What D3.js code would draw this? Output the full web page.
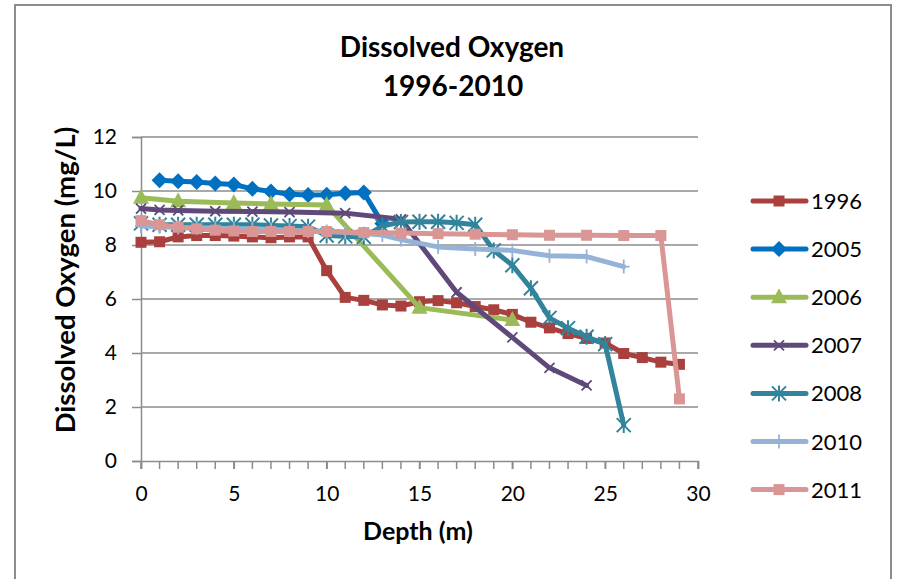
<!DOCTYPE html>
<html><head><meta charset="utf-8">
<script src="https://cdn.jsdelivr.net/npm/d3@7"></script>
<style>
body{margin:0;background:#fff}
svg{display:block}
text{font-family:Lato,"Open Sans",sans-serif;fill:#000}
</style>
</head><body>
<svg id="chart" width="903" height="579"></svg>
<script>
// ---- data ----
const seriesNames = ["1996", "2005", "2006", "2007", "2008", "2010", "2011"];
const depth1996 = [0,1,2,3,4,5,6,7,8,9,10,11,12,13,14,15,16,17,18,19,20,21,22,23,24,25,26,27,28,29];
const do1996 = [8.1,8.12,8.3,8.35,8.35,8.33,8.3,8.27,8.3,8.3,7.05,6.06,5.95,5.78,5.74,5.9,5.94,5.86,5.72,5.6,5.43,5.14,4.93,4.72,4.54,4.37,3.98,3.83,3.66,3.58];
const depth2005 = [1,2,3,4,5,6,7,8,9,10,11,12,13];
const do2005 = [10.4,10.36,10.33,10.28,10.24,10.08,9.98,9.88,9.85,9.86,9.92,9.94,8.8];
const depth2006 = [0,2,5,7,10,15,20];
const do2006 = [9.75,9.62,9.56,9.52,9.48,5.68,5.22];
const depth2007 = [0,1,2,4,6,8,11,14,17,20,22,24];
const do2007 = [9.35,9.3,9.28,9.25,9.24,9.22,9.18,8.95,6.25,4.58,3.45,2.8];
const depth2008 = [0,1,2,3,4,5,6,7,8,9,10,11,12,13,14,15,16,17,18,19,20,21,22,23,24,25,26];
const do2008 = [8.8,8.75,8.75,8.75,8.75,8.75,8.75,8.72,8.7,8.68,8.35,8.32,8.3,8.7,8.85,8.86,8.86,8.82,8.75,7.8,7.25,6.4,5.3,4.92,4.6,4.33,1.33];
const depth2010 = [0,1,2,3,4,5,6,7,8,9,10,11,12,13,14,16,18,20,22,24,26];
const do2010 = [8.7,8.68,8.65,8.64,8.62,8.6,8.6,8.57,8.55,8.52,8.5,8.47,8.43,8.37,8.2,7.93,7.85,7.8,7.6,7.57,7.2];
const depth2011 = [0,1,2,3,4,5,6,7,8,9,10,12,14,16,18,20,22,24,26,28,29];
const do2011 = [8.9,8.75,8.66,8.6,8.55,8.52,8.5,8.5,8.5,8.5,8.5,8.46,8.44,8.42,8.4,8.38,8.36,8.36,8.35,8.35,2.3];
const xTicks = [0,5,10,15,20,25,30];
const yTicks = [0,2,4,6,8,10,12];
const titleLines = ["Dissolved Oxygen", "1996-2010"];
const xTitle = "Depth (m)";
const yTitle = "Dissolved Oxygen (mg/L)";

const colors = ["#A9403D","#0070C0","#9BBB59","#5F497A","#31849B","#95B3D7","#D99694"];
const markers = ["square","diamond","triangle","x","asterisk","plus","square"];
const xs = [depth1996,depth2005,depth2006,depth2007,depth2008,depth2010,depth2011];
const ys = [do1996,do2005,do2006,do2007,do2008,do2010,do2011];
const series = seriesNames.map((n,i)=>({name:n,color:colors[i],marker:markers[i],
  pts:xs[i].map((d,j)=>({x:d,y:ys[i][j]}))}));

// ---- layout ----
const svg = d3.select("#chart");
const L = 141, R = 698, T = 137, B = 461;
const x = d3.scaleLinear().domain([0,30]).range([L,R]);
const y = d3.scaleLinear().domain([0,12]).range([B,T]);

// outer frame
svg.append("rect").attr("x",15).attr("y",5).attr("width",876).attr("height",590)
  .attr("fill","#fff").attr("stroke","#8c8c8c").attr("stroke-width",2);

// gridlines
svg.append("g").selectAll("line").data(yTicks.filter(d=>d>0)).join("line")
  .attr("x1",L).attr("x2",R).attr("y1",d=>y(d)).attr("y2",d=>y(d))
  .attr("stroke","#8c8c8c").attr("stroke-width",1.5);

// y axis
const yAxis = svg.append("g").attr("transform",`translate(${L},0)`)
  .call(d3.axisLeft(y).tickValues(yTicks).tickSize(9).tickPadding(15));
yAxis.select(".domain").attr("stroke","#8c8c8c").attr("stroke-width",1.5);
yAxis.selectAll(".tick line").attr("stroke","#8c8c8c").attr("stroke-width",1.5);
yAxis.selectAll("text").style("font-size","21px").style("font-family","Lato");

// x axis minor ticks
svg.append("g").selectAll("line").data(d3.range(0,31)).join("line")
  .attr("x1",d=>x(d)).attr("x2",d=>x(d)).attr("y1",B).attr("y2",B+8)
  .attr("stroke","#8c8c8c").attr("stroke-width",1.5);
const xAxis = svg.append("g").attr("transform",`translate(0,${B})`)
  .call(d3.axisBottom(x).tickValues(xTicks).tickSize(8).tickPadding(17));
xAxis.select(".domain").attr("stroke","#8c8c8c").attr("stroke-width",1.5);
xAxis.selectAll(".tick line").attr("stroke","#8c8c8c").attr("stroke-width",1.5);
xAxis.selectAll("text").style("font-size","21px").style("font-family","Lato");

// titles
svg.append("text").attr("x",452).attr("y",57).attr("text-anchor","middle")
  .style("font-size","28px").style("font-weight","bold").text(titleLines[0]);
svg.append("text").attr("x",453).attr("y",96).attr("text-anchor","middle")
  .style("font-size","28px").style("font-weight","bold").text(titleLines[1]);
svg.append("text").attr("x",418).attr("y",540).attr("text-anchor","middle")
  .style("font-size","25px").style("font-weight","bold").text(xTitle);
svg.append("text").attr("transform","translate(75,280) rotate(-90)").attr("text-anchor","middle")
  .style("font-size","27.5px").style("font-weight","bold").text(yTitle);

// marker drawing
function drawMarker(g, type, color){
  if(type==="square"){
    g.append("rect").attr("x",-5.5).attr("y",-5.5).attr("width",11).attr("height",11).attr("fill",color);
  } else if(type==="diamond"){
    g.append("path").attr("d","M0,-8L8,0L0,8L-8,0Z").attr("fill",color);
  } else if(type==="triangle"){
    g.append("path").attr("d","M0,-9L8,6L-8,6Z").attr("fill",color);
  } else if(type==="x"){
    g.append("path").attr("d","M-5,-5L5,5M-5,5L5,-5").attr("stroke",color).attr("stroke-width",1.8);
  } else if(type==="asterisk"){
    g.append("path").attr("d","M-7,-7L7,7M-7,7L7,-7M0,-8L0,8").attr("stroke",color).attr("stroke-width",2);
  } else if(type==="plus"){
    g.append("path").attr("d","M0,-7L0,7M-6,0L6,0").attr("stroke",color).attr("stroke-width",1.8);
  }
}

const line = d3.line().x(d=>x(d.x)).y(d=>y(d.y));
const plot = svg.append("g");
series.forEach(s=>{
  const g = plot.append("g");
  g.append("path").datum(s.pts).attr("d",line).attr("fill","none")
    .attr("stroke",s.color).attr("stroke-width",5).attr("stroke-linejoin","round").attr("stroke-linecap","round");
  g.selectAll("g.m").data(s.pts).join("g").attr("class","m")
    .attr("transform",d=>`translate(${x(d.x)},${y(d.y)})`)
    .each(function(){ drawMarker(d3.select(this), s.marker, s.color); });
});

// legend
const leg = svg.append("g");
series.forEach((s,i)=>{
  const ly = 201 + i*48.1;
  const g = leg.append("g").attr("transform",`translate(0,${ly})`);
  g.append("line").attr("x1",753).attr("x2",806).attr("y1",0).attr("y2",0)
    .attr("stroke",s.color).attr("stroke-width",5).attr("stroke-linecap","round");
  drawMarker(g.append("g").attr("transform","translate(779,0)"), s.marker, s.color);
  g.append("text").attr("x",811).attr("y",8).style("font-size","22px").text(s.name);
});
</script>
</body></html>
